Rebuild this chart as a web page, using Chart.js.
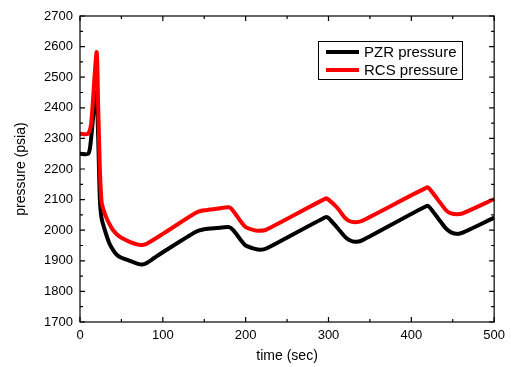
<!DOCTYPE html>
<html>
<head>
<meta charset="utf-8">
<script src="https://cdn.jsdelivr.net/npm/chart.js@4/dist/chart.umd.min.js"></script>
<style>
html,body{margin:0;padding:0;background:#fff;}
#wrap{width:511px;height:367px;}
</style>
</head>
<body>
<div id="wrap"><canvas id="c" width="511" height="367"></canvas></div>
<script>
const seriesNames = ["PZR pressure", "RCS pressure"];
const pzrTime = [0,10,13,18,20,22,24,26,30,35,40,45,50,60,70,75,80,90,100,140,150,165,180,185,195,200,210,218,225,297,300,310,320,325,332,340,419,422,432,442,448,455,462,500];
const pzrPressure = [2250,2250,2290,2430,2450,2300,2100,2040,2000,1960,1935,1918,1910,1900,1890,1888,1892,1910,1928,1995,2003,2007,2010,2000,1965,1950,1940,1936,1940,2043,2040,2010,1978,1968,1962,1966,2080,2075,2040,2005,1993,1988,1992,2041];
const rcsTime = [0,9.5,13.5,20,22,24,26,28,32,36,40,45,50,60,70,75,80,100,140,150,165,180,185,195,200,210,215,225,297,300,310,320,325,332,340,419,422,432,442,448,455,462,500];
const rcsPressure = [2315,2315,2350,2582,2400,2200,2093,2070,2040,2018,2000,1985,1975,1962,1953,1952,1955,1988,2057,2065,2070,2075,2063,2025,2010,2000,1998,2002,2104,2100,2075,2040,2030,2026,2030,2140,2135,2100,2065,2055,2052,2055,2102];
const xTicks = [0,100,200,300,400,500];
const yTicks = [1700,1800,1900,2000,2100,2200,2300,2400,2500,2600,2700];

const toPts = (t, v) => t.map((x, i) => ({x: x, y: v[i]}));
const FONT = "'Liberation Sans', Arial, sans-serif";

const frame = {
  id: 'frame',
  afterDraw(chart) {
    const ctx = chart.ctx, a = chart.chartArea;
    const xs = chart.scales.x, ys = chart.scales.y;
    ctx.save();
    ctx.strokeStyle = '#000';
    ctx.lineWidth = 1.2;
    ctx.strokeRect(a.left, a.top, a.right - a.left, a.bottom - a.top);
    ctx.beginPath();
    for (let v = 0; v <= 500; v += 50) {
      const p = xs.getPixelForValue(v);
      const L = (v % 100 === 0) ? 5 : 3;
      ctx.moveTo(p, a.bottom); ctx.lineTo(p, a.bottom - L);
      ctx.moveTo(p, a.top); ctx.lineTo(p, a.top + L);
    }
    for (let v = 1700; v <= 2700; v += 50) {
      const p = ys.getPixelForValue(v);
      const L = (v % 100 === 0) ? 5 : 3;
      ctx.moveTo(a.left, p); ctx.lineTo(a.left + L, p);
      ctx.moveTo(a.right, p); ctx.lineTo(a.right - L, p);
    }
    ctx.stroke();
    // legend
    const bx = 318, by = 41, bw = 144, bh = 38;
    ctx.lineWidth = 1;
    ctx.strokeStyle = '#000';
    ctx.fillStyle = '#fff';
    ctx.fillRect(bx, by, bw, bh);
    ctx.strokeRect(bx + 0.5, by + 0.5, bw, bh);
    chart.data.datasets.forEach((ds, i) => {
      const yy = by + 11 + i * 18;
      ctx.strokeStyle = ds.borderColor;
      ctx.lineWidth = 4;
      ctx.beginPath();
      ctx.moveTo(bx + 8, yy); ctx.lineTo(bx + 41, yy);
      ctx.stroke();
      ctx.fillStyle = '#000';
      ctx.font = '15px ' + FONT;
      ctx.textBaseline = 'middle';
      ctx.textAlign = 'left';
      ctx.fillText(ds.label, bx + 46, yy + 1);
    });
    ctx.restore();
  }
};

new Chart(document.getElementById('c'), {
  type: 'line',
  data: {
    datasets: [
      {label: seriesNames[0], data: toPts(pzrTime, pzrPressure), borderColor: '#000000', borderWidth: 4, pointRadius: 0, tension: 0.25, borderJoinStyle: 'round', order: 1},
      {label: seriesNames[1], data: toPts(rcsTime, rcsPressure), borderColor: '#ff0000', borderWidth: 4, pointRadius: 0, tension: 0.25, borderJoinStyle: 'round', order: 0}
    ]
  },
  options: {
    responsive: false,
    animation: false,
    layout: {padding: {left: 0, right: 16, top: 16, bottom: 0}},
    plugins: {legend: {display: false}, tooltip: {enabled: false}},
    scales: {
      x: {
        type: 'linear', min: 0, max: 500,
        afterFit(s) { s.height = 45; },
        afterBuildTicks(s) { s.ticks = xTicks.map(v => ({value: v})); },
        grid: {display: false, drawTicks: false},
        border: {display: false},
        ticks: {color: '#000', font: {family: FONT, size: 13}, padding: 6, callback: v => String(v)},
        title: {display: true, text: 'time (sec)', color: '#000', font: {family: FONT, size: 14}, padding: {top: 4, bottom: 2}}
      },
      y: {
        type: 'linear', min: 1700, max: 2700,
        afterFit(s) { s.width = 80; },
        afterBuildTicks(s) { s.ticks = yTicks.map(v => ({value: v})); },
        grid: {display: false, drawTicks: false},
        border: {display: false},
        ticks: {color: '#000', font: {family: FONT, size: 13}, padding: 7, callback: v => String(v)},
        title: {display: true, text: 'pressure (psia)', color: '#000', font: {family: FONT, size: 14}, padding: {top: 13, bottom: 4}}
      }
    }
  },
  plugins: [frame]
});
</script>
</body>
</html>
